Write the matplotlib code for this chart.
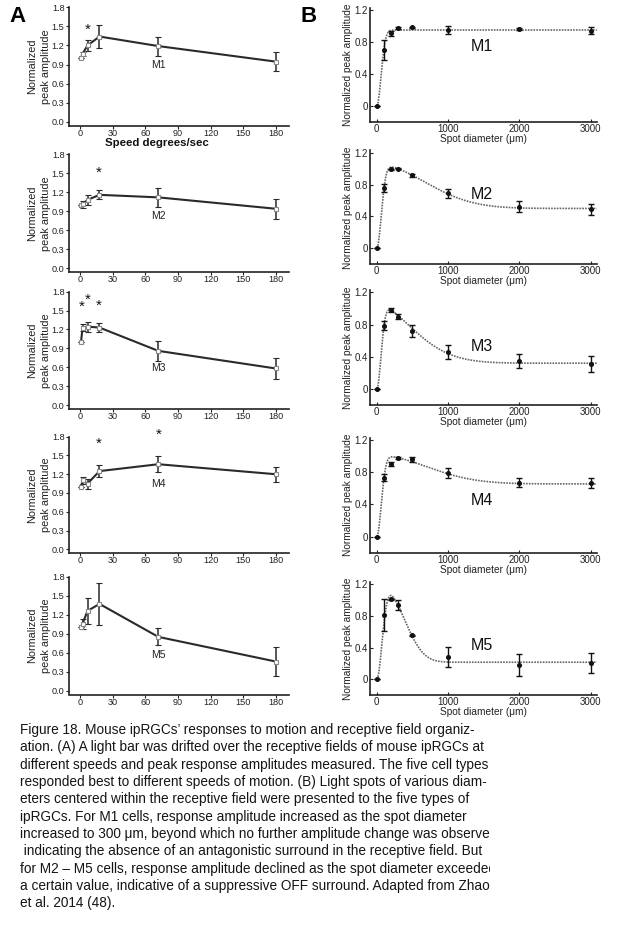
import numpy as np
import matplotlib
matplotlib.use('Agg')
import matplotlib.pyplot as plt
from matplotlib.transforms import Bbox, TransformedBbox

plt.rcParams['font.family'] = ['Liberation Sans', 'DejaVu Sans']

cell_types = ['M1', 'M2', 'M3', 'M4', 'M5']

# ---------------- Panel A: speed tuning ----------------
speeds = [1, 2.5, 7, 18, 72, 180]
speed_m1 = [1.00, 1.07, 1.20, 1.34, 1.19, 0.945]
speed_m1_err = [0.0, 0.03, 0.09, 0.18, 0.15, 0.155]
speed_m2 = [1.00, 1.01, 1.08, 1.16, 1.12, 0.94]
speed_m2_err = [0.0, 0.05, 0.08, 0.07, 0.15, 0.16]
speed_m3 = [1.00, 1.23, 1.245, 1.23, 0.86, 0.58]
speed_m3_err = [0.0, 0.06, 0.08, 0.07, 0.155, 0.17]
speed_m4 = [1.00, 1.10, 1.05, 1.25, 1.36, 1.20]
speed_m4_err = [0.0, 0.06, 0.08, 0.10, 0.13, 0.12]
speed_m5 = [1.00, 1.06, 1.26, 1.37, 0.85, 0.46]
speed_m5_err = [0.0, 0.08, 0.20, 0.33, 0.135, 0.23]

speed_vals = [speed_m1, speed_m2, speed_m3, speed_m4, speed_m5]
speed_errs = [speed_m1_err, speed_m2_err, speed_m3_err, speed_m4_err, speed_m5_err]

# significance asterisks (speed, height)
stars_x = [[7], [17], [1.5, 7.5, 17.5], [17.5, 72], []]
stars_y = [[1.44], [1.51], [1.56, 1.67, 1.575], [1.68, 1.83], []]
labelA_y = [0.89, 0.83, 0.58, 1.05, 0.56]

speed_xticks = [0, 30, 60, 90, 120, 150, 180]
speed_yticks = [0.0, 0.3, 0.6, 0.9, 1.2, 1.5, 1.8]

# ---------------- Panel B: area-response ----------------
diameters = [0, 100, 200, 300, 500, 1000, 2000, 3000]
resp_m1 = [0, 0.70, 0.908, 0.975, 0.983, 0.95, 0.9625, 0.94]
err_m1 = [0, 0.12, 0.03, 0.01, 0.01, 0.045, 0.01, 0.045]
resp_m2 = [0, 0.76, 0.99, 1.00, 0.916, 0.69, 0.52, 0.49]
err_m2 = [0, 0.05, 0.01, 0.01, 0.015, 0.055, 0.07, 0.07]
resp_m3 = [0, 0.786, 0.98, 0.898, 0.72, 0.455, 0.35, 0.306]
err_m3 = [0, 0.055, 0.02, 0.03, 0.07, 0.085, 0.09, 0.10]
resp_m4 = [0, 0.732, 0.90, 0.976, 0.96, 0.786, 0.67, 0.662]
err_m4 = [0, 0.045, 0.025, 0.01, 0.027, 0.062, 0.055, 0.062]
resp_m5 = [0, 0.806, 1.007, 0.936, 0.554, 0.285, 0.18, 0.20]
err_m5 = [0, 0.20, 0.01, 0.067, 0.01, 0.126, 0.136, 0.126]

resp_vals = [resp_m1, resp_m2, resp_m3, resp_m4, resp_m5]
resp_errs = [err_m1, err_m2, err_m3, err_m4, err_m5]

# fitted centre-surround model parameters (centre gain, centre width,
# surround gain, surround width, surround exponent)
fit_center_gain = [0.95, 1.05, 1.059, 1.012, 1.19]
fit_center_width = [86, 90, 85, 90, 105]
fit_surround_gain = [0.0, 0.55, 0.739, 0.357, 0.975]
fit_surround_width = [1000, 950, 710, 976, 480]
fit_surround_exp = [2.0, 2.0, 1.75, 2.0, 2.5]

labelB_y = [0.74, 0.67, 0.53, 0.455, 0.43]

diam_xticks = [0, 1000, 2000, 3000]
diam_yticks = [0, 0.4, 0.8, 1.2]
diam_yticklabels = ['0', '0.4', '0.8', '1.2']

caption_lines = [
    "Figure 18. Mouse ipRGCs\u2019 responses to motion and receptive field organiz-",
    "ation. (A) A light bar was drifted over the receptive fields of mouse ipRGCs at",
    "different speeds and peak response amplitudes measured. The five cell types",
    "responded best to different speeds of motion. (B) Light spots of various diam-",
    "eters centered within the receptive field were presented to the five types of",
    "ipRGCs. For M1 cells, response amplitude increased as the spot diameter",
    "increased to 300 \u03bcm, beyond which no further amplitude change was observed,",
    " indicating the absence of an antagonistic surround in the receptive field. But",
    "for M2 \u2013 M5 cells, response amplitude declined as the spot diameter exceeded",
    "a certain value, indicative of a suppressive OFF surround. Adapted from Zhao",
    "et al. 2014 (48).",
]

# ---------------- layout (pixels) ----------------
W, H = 630, 952
A_tops = [7.3, 154.3, 291.7, 436.7, 576.7]
A_zeros = [121.7, 268.3, 405.0, 549.3, 690.7]
B_tops = [10.0, 152.7, 292.3, 440.0, 584.0]
B_zeros = [106.0, 248.3, 389.0, 536.7, 679.3]
caption_clip_x = 490

fig = plt.figure(figsize=(W / 100, H / 100), dpi=100)
fig.patch.set_facecolor('white')

spine_col = '#222222'


def px_axes(left, top, width, bottom):
    return fig.add_axes([left / W, 1 - bottom / H, width / W, (bottom - top) / H])


A_xlim = (-10, 192)
A_ppx = 196 / 180.0
for i in range(5):
    t, z = A_tops[i], A_zeros[i]
    ppu = (z - t) / 1.8
    bottom = z + 0.06 * ppu
    ax = px_axes(69, t, (A_xlim[1] - A_xlim[0]) * A_ppx, bottom)
    ax.set_xlim(*A_xlim)
    ax.set_ylim(-0.06, 1.8)
    for s in ['top', 'right']:
        ax.spines[s].set_visible(False)
    for s in ['left', 'bottom']:
        ax.spines[s].set_linewidth(1.2)
        ax.spines[s].set_color(spine_col)
    ax.errorbar(speeds, speed_vals[i], yerr=speed_errs[i], color='#2a2a2a',
                lw=1.5, elinewidth=1.1, capsize=2, capthick=1.0,
                marker='s', ms=3.2, mfc='white', mec='#888888', mew=0.8,
                zorder=3)
    ax.set_xticks(speed_xticks)
    ax.set_yticks(speed_yticks)
    ax.set_yticklabels(['%.1f' % v for v in speed_yticks])
    ax.tick_params(direction='out', length=2, width=0.8, labelsize=6.6,
                   colors='#222222')
    ax.tick_params(axis='x', pad=0.2)
    ax.tick_params(axis='y', pad=1.2)
    ax.set_ylabel('Normalized\npeak amplitude', fontsize=7.8, labelpad=0.8,
                  linespacing=1.45, color='#222222')
    ax.text(72, labelA_y[i], cell_types[i], fontsize=7.5, ha='center',
            va='center', color='#222222')
    for sx, sy in zip(stars_x[i], stars_y[i]):
        ax.text(sx, sy, '*', fontsize=11, ha='center', va='center',
                clip_on=False, color='#111111')

fig.text(157 / W, 1 - 142.5 / H, 'Speed degrees/sec', fontsize=8.2,
         fontweight='bold', ha='center', va='center', color='#111111')

B_xlim = (-94, 3090)
B_ppx = 214 / 3000.0
d_curve = np.linspace(0, 3085, 600)
for i in range(5):
    t, z = B_tops[i], B_zeros[i]
    ppu = (z - t) / 1.2
    top = t - 0.03 * ppu
    bottom = z + 0.2 * ppu
    ax = px_axes(370, top, (B_xlim[1] - B_xlim[0]) * B_ppx, bottom)
    ax.set_xlim(*B_xlim)
    ax.set_ylim(-0.2, 1.23)
    for s in ['top', 'right']:
        ax.spines[s].set_visible(False)
    for s in ['left', 'bottom']:
        ax.spines[s].set_linewidth(1.2)
        ax.spines[s].set_color(spine_col)
    curve = (fit_center_gain[i] * (1 - np.exp(-(d_curve / fit_center_width[i]) ** 2))
             - fit_surround_gain[i] * (1 - np.exp(-(d_curve / fit_surround_width[i]) ** fit_surround_exp[i])))
    ax.plot(d_curve, curve, color='#666666', lw=1.2, ls=(0, (1, 0.7)), zorder=2)
    ax.errorbar(diameters, resp_vals[i], yerr=resp_errs[i], fmt='o',
                color='#111111', ms=2.6, elinewidth=1.0, capsize=2.5,
                capthick=1.0, zorder=3)
    ax.set_xticks(diam_xticks)
    ax.set_yticks(diam_yticks)
    ax.set_yticklabels(diam_yticklabels)
    ax.tick_params(direction='in', length=2.5, width=0.8, labelsize=7,
                   pad=1.5, colors='#222222')
    ax.set_ylabel('Normalized peak amplitude', fontsize=7.3, labelpad=1,
                  color='#222222')
    ax.set_xlabel('Spot diameter (\u03bcm)', fontsize=7.3, labelpad=0,
                  color='#222222')
    ax.text(1472, labelB_y[i], cell_types[i], fontsize=11.5, ha='center',
            va='center', color='#111111')

fig.text(17 / W, 1 - 17 / H, 'A', fontsize=16, fontweight='bold',
         ha='center', va='center')
fig.text(308.5 / W, 1 - 17 / H, 'B', fontsize=16, fontweight='bold',
         ha='center', va='center')

clip_box = TransformedBbox(Bbox([[0, 0], [caption_clip_x / W, 1]]), fig.transFigure)
cap_y0 = 715 + 45 / 3.0
cap_dy = 52 / 3.0
for k, line in enumerate(caption_lines):
    txt = fig.text(20 / W, 1 - (cap_y0 + k * cap_dy) / H, line, fontsize=9.8,
                   ha='left', va='center', color='#151515')
    txt.set_clip_box(clip_box)
    txt.set_clip_on(True)

fig.savefig('out.png', dpi=100, facecolor='white')
